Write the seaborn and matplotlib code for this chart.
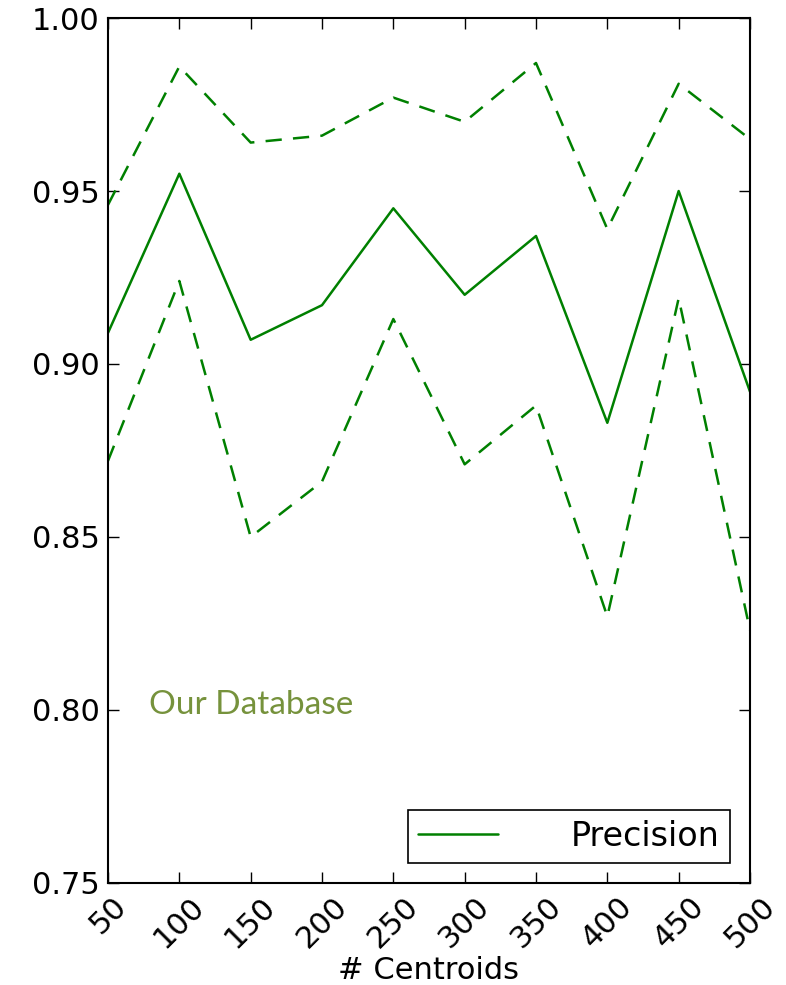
import numpy as np
import pandas as pd
import matplotlib
matplotlib.use("Agg")
import matplotlib.pyplot as plt
import seaborn as sns

# data
centroids = [50, 100, 150, 200, 250, 300, 350, 400, 450, 500]
precision = [0.909, 0.955, 0.907, 0.917, 0.945, 0.920, 0.937, 0.883, 0.950, 0.892]
upper = [0.946, 0.986, 0.964, 0.966, 0.977, 0.970, 0.987, 0.939, 0.981, 0.965]
lower = [0.872, 0.924, 0.850, 0.866, 0.913, 0.871, 0.888, 0.827, 0.919, 0.823]
x_ticks = centroids
y_ticks = [0.75, 0.80, 0.85, 0.90, 0.95, 1.00]

df = pd.DataFrame({"Centroids": centroids, "Precision": precision,
                   "Upper": upper, "Lower": lower})

sns.set_style("white")
plt.rcParams["font.family"] = ["DejaVu Sans"]
plt.rcParams["text.color"] = "black"
plt.rcParams["axes.labelcolor"] = "black"
plt.rcParams["xtick.color"] = "black"
plt.rcParams["ytick.color"] = "black"

fig = plt.figure(figsize=(7.86, 9.85), dpi=100)
ax = fig.add_axes([0.1374, 0.1036, 0.8168, 0.8781])

green = "#008000"
sns.lineplot(data=df, x="Centroids", y="Precision", ax=ax, color=green,
             linewidth=1.8, label="Precision")
for col in ["Upper", "Lower"]:
    sns.lineplot(data=df, x="Centroids", y=col, ax=ax, color=green,
                 linewidth=1.8, legend=False)
    ax.lines[-1].set_dashes((6.5, 4.5))

ax.set_xlim(50, 500)
ax.set_ylim(0.75, 1.00)
ax.set_xticks(x_ticks)
ax.set_xticklabels([str(v) for v in x_ticks], rotation=45, fontsize=22)
ax.set_yticks(y_ticks)
ax.set_yticklabels([f"{v:.2f}" for v in y_ticks], fontsize=22)
ax.tick_params(direction="in", length=8, width=1, top=True, right=True,
               bottom=True, left=True, color="black", labelcolor="black", pad=6)
ax.set_xlabel("# Centroids", fontsize=22, labelpad=2)
ax.set_ylabel("")
for s in ax.spines.values():
    s.set_color("black")
    s.set_linewidth(1.5)

ax.text(79, 0.8015, "Our Database", color="#76923C", fontsize=24,
        family=["Lato", "DejaVu Sans"], va="center", ha="left")

leg = ax.legend(loc="lower right", fontsize=24, handlelength=2.4,
                handletextpad=2.2, borderpad=0.3, borderaxespad=0.6,
                fancybox=False, framealpha=1)
leg.get_frame().set_edgecolor("black")
leg.get_frame().set_linewidth(1.2)
for t in leg.get_texts():
    t.set_color("black")

fig.savefig("out.png", dpi=100)
